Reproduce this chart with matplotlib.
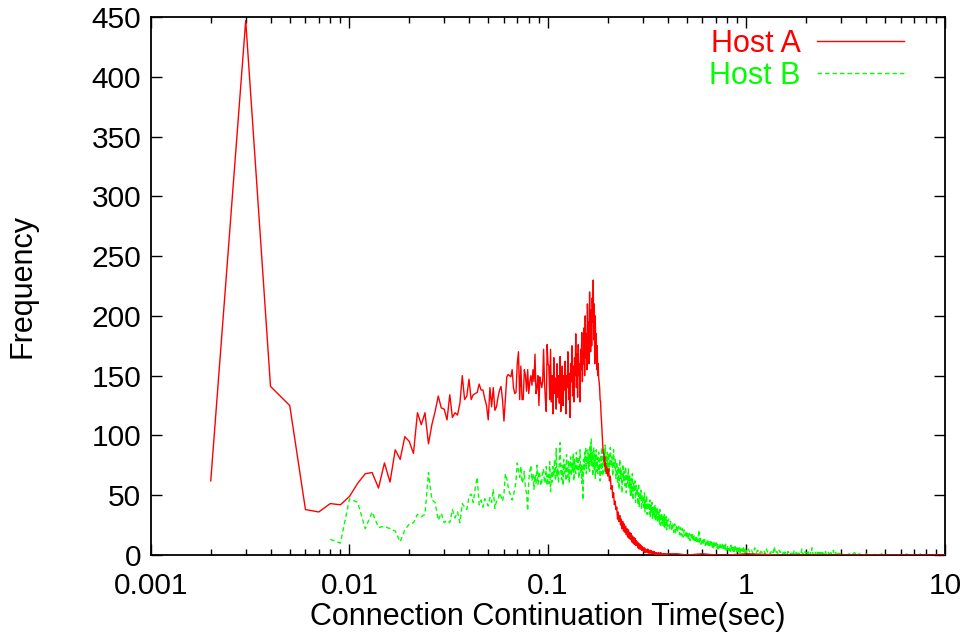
import numpy as np
import matplotlib
matplotlib.use("Agg")
import matplotlib.pyplot as plt
from matplotlib.ticker import LogLocator, NullFormatter

plt.rcParams['font.family'] = ['Liberation Sans', 'DejaVu Sans']

# ---------------- data ----------------
# Host A: 1 ms bins 0.002 .. 0.100
host_a_f1 = [62, 447, 141, 125, 38, 36, 43, 42, 49, 60,
             68, 69, 56, 77, 61, 88, 80, 99, 95, 85,
             119, 109, 119, 93, 109, 120, 133, 123, 122, 113,
             134, 115, 119, 117, 127, 150, 130, 133, 147, 130,
             134, 135, 136, 143, 138, 138, 131, 125, 113, 140,
             124, 140, 121, 124, 132, 138, 141, 130, 112, 130,
             149, 151, 150, 149, 155, 140, 135, 136, 160, 170,
             130, 158, 130, 130, 155, 150, 137, 155, 135, 145,
             150, 142, 155, 145, 168, 135, 140, 150, 125, 149,
             145, 140, 145, 172, 145, 130, 120, 176, 160]
# Host A: 1 ms bins 0.101 .. 0.200
host_a_f2 = [158, 130, 172, 128, 150, 118, 165, 135, 148, 122,
             160, 132, 150, 127, 166, 120, 145, 158, 125, 150,
             138, 162, 118, 150, 140, 170, 130, 152, 115, 160,
             145, 175, 133, 158, 128, 165, 150, 185, 140, 168,
             132, 176, 150, 160, 128, 172, 155, 186, 145, 170,
             160, 190, 150, 200, 165, 185, 155, 210, 175, 195,
             160, 220, 185, 170, 205, 175, 215, 195, 230, 180,
             210, 160, 200, 170, 185, 155, 175, 150, 160, 148,
             145, 140, 130, 128, 118, 112, 104, 96, 90, 85,
             85, 78, 82, 74, 77, 70, 74, 68, 72, 66]
# Host A: 2 ms steps 0.202 .. 0.400
host_a_f3 = [72, 62, 66, 55, 58, 48, 52, 42, 45, 38,
             40, 30, 36, 28, 33, 25, 30, 22, 28, 20,
             26, 19, 24, 17, 22, 15, 21, 14, 19, 13,
             18, 11, 16, 10, 15, 9, 14, 8, 12, 8,
             11, 6, 10, 5, 9, 5, 8, 4, 7, 4,
             6, 3, 6, 2, 5, 3, 4, 2, 5, 2,
             4, 1, 3, 2, 4, 1, 3, 1, 2, 1,
             3, 1, 2, 0, 2, 1, 2, 0, 1, 1,
             2, 0, 1, 1, 2, 0, 1, 0, 1, 1,
             1, 0, 1, 0, 1, 0, 1, 0, 0, 1]
# Host A tail
host_a_tail_t = [0.45, 0.5, 0.6, 0.7, 0.8, 1.0, 1.5, 2.0, 3.0, 5.0, 10.0]
host_a_tail_f = [1, 0, 1, 0, 0, 1, 0, 0, 0, 0, 0]

# Host B: 1 ms bins 0.008 .. 0.100
host_b_f1 = [13, 10, 47, 44, 22, 36, 23, 24, 22, 20,
             11, 21, 26, 27, 34, 32, 34, 69, 46, 44,
             29, 35, 27, 29, 27, 38, 31, 36, 27, 43,
             40, 38, 49,
             51, 44, 56, 65, 42, 46, 40, 47, 44, 41,
             48, 44, 55, 39, 45, 46, 52, 49, 45, 51,
             68, 64, 57, 52, 50, 46, 50, 55, 62, 77,
             71, 65, 74, 60, 63, 70, 55, 52, 37, 62,
             70, 75, 62, 68, 55, 67, 60, 75, 59, 70,
             67, 58, 61, 72, 71, 60, 62, 74, 58, 67]
# Host B: 1 ms bins 0.101 .. 0.200
host_b_f2 = [60, 78, 53, 70, 61, 74, 66, 80, 62, 89,
             65, 72, 60, 78, 94, 70, 63, 75, 58, 80,
             68, 76, 62, 84, 70, 65, 79, 60, 74, 82,
             66, 77, 70, 85, 62, 80, 72, 68, 86, 74,
             70, 82, 64, 78, 88, 69, 76, 60, 74, 46,
             80, 70, 86, 74, 90, 68, 82, 76, 88, 72,
             84, 70, 92, 78, 97, 74, 86, 66, 80, 90,
             72, 84, 64, 78, 88, 70, 82, 68, 76, 86,
             70, 80, 62, 76, 84, 68, 90, 74, 66, 82,
             76, 88, 70, 92, 78, 68, 84, 74, 86, 72]
# Host B: 2 ms steps 0.202 .. 0.400
host_b_f3 = [85, 70, 90, 74, 82, 66, 88, 72, 80, 64,
             78, 60, 74, 55, 80, 64, 72, 52, 76, 62,
             70, 58, 74, 52, 68, 60, 72, 55, 66, 50,
             64, 50, 68, 46, 60, 54, 62, 44, 58, 50,
             56, 42, 60, 40, 52, 46, 54, 38, 50, 44,
             48, 38, 52, 36, 46, 40, 50, 34, 44, 38,
             44, 34, 46, 32, 42, 36, 44, 30, 40, 34,
             40, 30, 42, 28, 38, 32, 40, 27, 36, 30,
             36, 27, 38, 25, 34, 28, 35, 24, 32, 26,
             33, 24, 34, 22, 31, 25, 32, 21, 29, 24]
# Host B: 5 ms steps 0.405 .. 1.000
host_b_f4 = [30, 22, 28, 20, 27, 19, 26, 18, 25, 20,
             24, 17, 23, 16, 22, 15, 21, 16, 20, 14,
             19, 13, 18, 12, 17, 13, 18, 11, 16, 12,
             16, 10, 15, 11, 21, 10, 14, 9, 13, 10,
             14, 9, 13, 8, 12, 9, 13, 7, 12, 8,
             12, 7, 11, 7, 10, 6, 11, 6, 10, 7,
             10, 6, 9, 5, 9, 6, 10, 5, 8, 6,
             9, 5, 8, 4, 8, 5, 9, 4, 7, 5,
             8, 4, 7, 4, 7, 3, 8, 4, 6, 4,
             7, 3, 6, 3, 7, 3, 6, 2, 6, 3,
             6, 3, 5, 2, 6, 2, 5, 3, 5, 2,
             5, 2, 6, 2, 4, 2, 5, 1, 4, 2]
# Host B: 20 ms steps 1.02 .. 3.00
host_b_f5 = [5, 2, 4, 1, 6, 2, 4, 1, 3, 2,
             4, 1, 5, 2, 3, 1, 4, 2, 7, 1,
             3, 1, 4, 2, 3, 0, 4, 1, 3, 1,
             3, 1, 2, 0, 3, 1, 4, 1, 2, 1,
             3, 0, 2, 1, 5, 0, 2, 1, 3, 0,
             2, 1, 3, 0, 2, 1, 6, 0, 2, 1,
             2, 0, 3, 1, 2, 0, 2, 1, 2, 0,
             2, 1, 1, 0, 3, 0, 1, 1, 2, 0,
             1, 0, 2, 0, 1, 1, 4, 0, 1, 0,
             2, 0, 1, 0, 1, 1, 2, 0, 1, 0]
# Host B: 0.1 s steps 3.1 .. 10.0
host_b_f6 = [1, 0, 1, 0, 2, 0, 1, 0, 0, 1,
             0, 1, 0, 0, 1, 0, 0, 1, 0, 0,
             0, 0, 1, 0, 0, 0, 0, 1, 0, 0,
             0, 0, 0, 1, 0, 0, 0, 0, 0, 0,
             0, 0, 0, 0, 1, 0, 0, 0, 0, 0,
             0, 0, 0, 0, 0, 0, 0, 0, 0, 0,
             0, 0, 0, 0, 0, 0, 0, 0, 0, 0]

x_ticks = [0.001, 0.01, 0.1, 1, 10]
x_tick_labels = ['0.001', '0.01', '0.1', '1', '10']
y_ticks = [0, 50, 100, 150, 200, 250, 300, 350, 400, 450]


def seg(start, step, vals):
    return np.round(start + step * np.arange(len(vals)), 4), np.asarray(vals, float)


a_parts = [seg(0.002, 0.001, host_a_f1), seg(0.101, 0.001, host_a_f2),
           seg(0.202, 0.002, host_a_f3),
           (np.array(host_a_tail_t), np.array(host_a_tail_f, float))]
b_parts = [seg(0.008, 0.001, host_b_f1), seg(0.101, 0.001, host_b_f2),
           seg(0.202, 0.002, host_b_f3), seg(0.405, 0.005, host_b_f4),
           seg(1.02, 0.02, host_b_f5), seg(3.1, 0.1, host_b_f6)]
ax_t = np.concatenate([p[0] for p in a_parts])
ax_f = np.concatenate([p[1] for p in a_parts])
bx_t = np.concatenate([p[0] for p in b_parts])
bx_f = np.concatenate([p[1] for p in b_parts])

# ---------------- figure ----------------
fig = plt.figure(figsize=(9.65, 6.38), dpi=100)
ax = fig.add_axes([151 / 965, 1 - 555 / 638, (945 - 151) / 965, (555 - 17) / 638])

ax.plot(ax_t, ax_f, color='#ff0000', lw=1.0, label='Host A', zorder=3)
ax.plot(bx_t, bx_f, color='#00ff00', lw=1.0, ls=(0, (3.2, 2.2)), label='Host B', zorder=2)

ax.set_xscale('log')
ax.set_xlim(0.001, 10)
ax.set_ylim(0, 450)
ax.set_xticks(x_ticks, x_tick_labels)
ax.xaxis.set_minor_locator(LogLocator(base=10, subs=np.arange(2, 10)))
ax.xaxis.set_minor_formatter(NullFormatter())
ax.set_yticks(y_ticks)

ax.tick_params(axis='x', which='major', direction='in', length=8, width=1,
               labelsize=21.5, top=True, pad=12)
ax.tick_params(axis='y', which='major', direction='in', length=8, width=1,
               labelsize=21.5, right=True, pad=7)
ax.tick_params(axis='x', which='minor', direction='in', length=4, width=1,
               top=True, bottom=True)
for s in ax.spines.values():
    s.set_linewidth(1.3)

ax.set_xlabel('Connection Continuation Time(sec)', fontsize=22, labelpad=2)
ax.set_ylabel('Frequency', fontsize=22, labelpad=39)

leg = ax.legend(loc='upper right', bbox_to_anchor=(0.968, 1.006), frameon=False,
                markerfirst=False, handlelength=2.85, handletextpad=0.55,
                labelcolor='linecolor', fontsize=22, labelspacing=0.05,
                borderaxespad=0.1)

fig.savefig('out.png', dpi=100)
